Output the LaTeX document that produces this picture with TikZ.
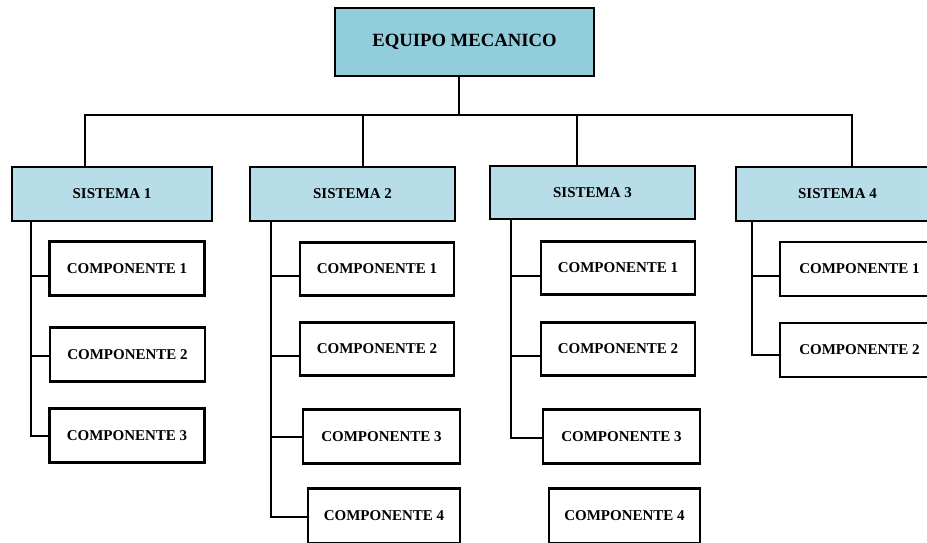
\documentclass[tikz,border=0pt]{standalone}
\usepackage{fontspec}
\setmainfont{Liberation Serif}
\begin{document}
\begin{tikzpicture}[x=1pt,y=-1pt,
  box/.style={draw=black,line width=2.1pt,rectangle,inner sep=0pt,font=\bfseries},
  topbox/.style={box,fill=topfill,font=\fontsize{18.7}{20}\selectfont\bfseries},
  sysbox/.style={box,fill=sysfill,font=\fontsize{15}{17}\selectfont\bfseries},
  compbox/.style={box,fill=white,minimum width=155pt,minimum height=54pt,font=\fontsize{15}{17}\selectfont\bfseries},
  link/.style={draw=black,line width=2pt}]
\definecolor{topfill}{HTML}{92CDDC}
\definecolor{sysfill}{HTML}{B6DDE8}
\useasboundingbox (0,0) rectangle (927,542);
\clip (0,0) rectangle (927,542);

% top level
\node[topbox,minimum width=259pt,minimum height=68pt] (eq) at (464.5,42) {EQUIPO MECANICO};

% systems
\node[sysbox,minimum width=200pt,minimum height=54pt] (s1) at (112,194) {SISTEMA 1};
\node[sysbox,minimum width=205pt,minimum height=54pt] (s2) at (352.5,194) {SISTEMA 2};
\node[sysbox,minimum width=205pt,minimum height=53pt] (s3) at (592.5,192.5) {SISTEMA 3};
\node[sysbox,minimum width=203pt,minimum height=54pt] (s4) at (837.5,194) {SISTEMA 4};

% bus from the top box to the systems
\coordinate (bus) at (459,115);
\draw[link] (eq.south -| bus) -- (bus);
\draw[link] ([xshift=-27pt]s1.north) |- (bus) -| ([xshift=10.5pt]s2.north);
\draw[link] (bus) -| ([xshift=-15.5pt]s3.north);
\draw[link] (bus) -| ([xshift=14.5pt]s4.north);

% components of system 1
\node[compbox] (a1) at (127,268.5) {COMPONENTE 1};
\node[compbox] (a2) at (127.5,354.5) {COMPONENTE 2};
\node[compbox] (a3) at (127,435.5) {COMPONENTE 3};
\coordinate (ta) at ([xshift=20pt]s1.south west);
\draw[link] (ta) |- ([yshift=-7.5pt]a1.west);
\draw[link] (ta) |- ([yshift=-1.5pt]a2.west);
\draw[link] (ta) |- (a3.west);

% components of system 2
\node[compbox,minimum width=154pt,minimum height=53pt] (b1) at (377,269) {COMPONENTE 1};
\node[compbox,minimum width=154pt,minimum height=53pt] (b2) at (377,349) {COMPONENTE 2};
\node[compbox,minimum width=157pt,minimum height=54pt] (b3) at (381.5,436.5) {COMPONENTE 3};
\node[compbox,minimum width=152pt,minimum height=55pt] (b4) at (384,516) {COMPONENTE 4};
\coordinate (tb) at ([xshift=22.5pt]s2.south west);
\draw[link] (tb) |- ([yshift=-7pt]b1.west);
\draw[link] (tb) |- ([yshift=-7pt]b2.west);
\draw[link] (tb) |- (b3.west);
\draw[link] (tb) |- ([yshift=-1pt]b4.west);

% components of system 3
\node[compbox,minimum width=154pt,minimum height=53pt] (c1) at (618,268) {COMPONENTE 1};
\node[compbox,minimum width=154pt,minimum height=53pt] (c2) at (618,349) {COMPONENTE 2};
\node[compbox,minimum width=157pt,minimum height=54pt] (c3) at (621.5,436.5) {COMPONENTE 3};
\node[compbox,minimum width=151pt,minimum height=55pt] (c4) at (624.5,516) {COMPONENTE 4};
\coordinate (tc) at ([xshift=22.5pt]s3.south west);
\draw[link] (tc) |- ([yshift=-8pt]c1.west);
\draw[link] (tc) |- ([yshift=-7pt]c2.west);
\draw[link] (tc) |- ([yshift=-1pt]c3.west);

% components of system 4
\node[compbox,minimum width=159pt,minimum height=54pt] (d1) at (859.5,269) {COMPONENTE 1};
\node[compbox,minimum width=159pt,minimum height=54pt] (d2) at (859.5,350) {COMPONENTE 2};
\coordinate (td) at ([xshift=17pt]s4.south west);
\draw[link] (td) |- ([yshift=-7pt]d1.west);
\draw[link] (td) |- ([yshift=-5pt]d2.west);
\end{tikzpicture}
\end{document}
